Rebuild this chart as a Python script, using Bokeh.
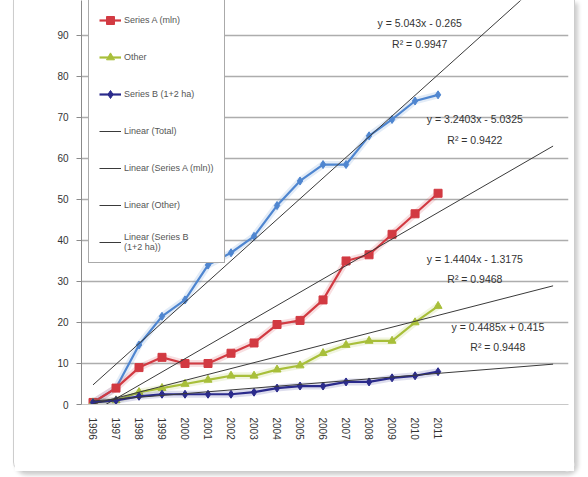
from bokeh.plotting import figure
from bokeh.models import FixedTicker, Legend, LegendItem, InlineStyleSheet, Range1d
from bokeh.embed import file_html
from bokeh.resources import INLINE
from bokeh.core.properties import value
import numpy as np

# ---- data -------------------------------------------------------------
years = ["1996", "1997", "1998", "1999", "2000", "2001", "2002", "2003",
         "2004", "2005", "2006", "2007", "2008", "2009", "2010", "2011"]
idx = list(range(1, len(years) + 1))

total = [0.5, 4.0, 14.5, 21.5, 25.5, 34.0, 37.0, 41.0, 48.5, 54.5, 58.5, 58.5, 65.5, 69.5, 74.0, 75.5]
series_a = [0.5, 4.0, 9.0, 11.5, 10.0, 10.0, 12.5, 15.0, 19.5, 20.5, 25.5, 35.0, 36.5, 41.5, 46.5, 51.5]
other = [0.5, 1.0, 3.0, 4.0, 5.0, 6.0, 7.0, 7.0, 8.5, 9.5, 12.5, 14.5, 15.5, 15.5, 20.0, 24.0]
series_b = [0.5, 1.0, 2.0, 2.5, 2.5, 2.5, 2.5, 3.0, 4.0, 4.5, 4.5, 5.5, 5.5, 6.5, 7.0, 8.0]

# linear trend coefficients (slope, intercept) and R^2 for each series
trend_slope = [5.043, 3.2403, 1.4404, 0.4485]
trend_icpt = [-0.265, -5.0325, -1.3175, 0.415]
trend_r2 = ["0.9947", "0.9422", "0.9468", "0.9448"]
forecast_end = 21  # trend lines run five periods past the last year

y_ticks = [0, 10, 20, 30, 40, 50, 60, 70, 80, 90]

# ---- figure -------------------------------------------------------------
FONT = "Liberation Sans"
frame_css = InlineStyleSheet(css=""":host {
  border: 1px solid #cdcdcd; border-top: none;
  border-radius: 0 0 10px 10px;
  box-shadow: 3px 3px 4px rgba(0,0,0,0.20);
}""")

p = figure(width=562, height=472,
           x_range=Range1d(0.5, 21.67), y_range=Range1d(0, 98.5),
           output_backend="svg", toolbar_location=None,
           min_border_left=67, min_border_right=8,
           min_border_top=0, min_border_bottom=68,
           margin=(0, 0, 0, 13), stylesheets=[frame_css])
p.outline_line_color = None
p.background_fill_color = "white"
p.border_fill_color = "white"

# axes
p.yaxis.ticker = FixedTicker(ticks=y_ticks)
p.yaxis.axis_line_color = "#8a8a8a"
p.yaxis.major_tick_line_color = "#8a8a8a"
p.yaxis.major_tick_out = 5
p.yaxis.major_tick_in = 0
p.yaxis.minor_tick_line_color = None
p.yaxis.major_label_text_font = FONT
p.yaxis.major_label_text_font_size = "10px"
p.yaxis.major_label_text_color = "#333333"
p.yaxis.major_label_standoff = 8

p.xaxis.ticker = FixedTicker(ticks=idx)
p.xaxis.major_label_overrides = {i: y for i, y in zip(idx, years)}
p.xaxis.major_label_orientation = "vertical"
p.xaxis.axis_line_color = "#c8c8c8"
p.xaxis.major_tick_line_color = None
p.xaxis.minor_tick_line_color = None
p.xaxis.major_label_text_font = FONT
p.xaxis.major_label_text_font_size = "10px"
p.xaxis.major_label_text_color = "#333333"
p.xaxis.major_label_standoff = 7

p.xgrid.grid_line_color = None
p.ygrid.grid_line_color = "#adadad"
p.ygrid.grid_line_width = 1.5

# ---- series -------------------------------------------------------------
styles = [
    # data, colour, marker
    (total, "#4f86d0", "diamond"),
    (series_a, "#d23a42", "square"),
    (other, "#a8bf3a", "triangle"),
    (series_b, "#2b2b8c", "diamond"),
]

renderers = []
for data, col, mk in styles:
    p.line(idx, data, line_color=col, line_width=7, line_alpha=0.16)
    ln = p.line(idx, data, line_color=col, line_width=2.2)
    sc = p.scatter(idx, data, marker=mk, size=8, fill_color=col,
                   line_color=col)
    renderers.append([ln, sc])

# linear trend lines
tx = np.array([1, forecast_end], dtype=float)
trend_r = []
for m, b in zip(trend_slope, trend_icpt):
    trend_r.append(p.line(tx, m * tx + b, line_color="#3a3a3a", line_width=1))

# trend equations
eq_pos = [(15.2, 93.0), (17.6, 69.5), (17.6, 35.5), (18.6, 19.0)]
for (x, y), m, b, r2 in zip(eq_pos, trend_slope, trend_icpt, trend_r2):
    sign = "+" if b >= 0 else "-"
    eq = f"y = {m}x {sign} {abs(b)}"
    p.text([x], [y], text=[eq], text_font=value(FONT),
           text_font_size="10.5px", text_color="#333333",
           text_align="center", text_baseline="middle")
    p.text([x], [y - 5], text=[f"R\u00b2 = {r2}"], text_font=value(FONT),
           text_font_size="10.5px", text_color="#333333",
           text_align="center", text_baseline="middle")

# ---- legend -------------------------------------------------------------
items = [
    LegendItem(label="Series A (mln)", renderers=renderers[1]),
    LegendItem(label="Other", renderers=renderers[2]),
    LegendItem(label="Series B (1+2 ha)", renderers=renderers[3]),
    LegendItem(label="Linear (Total)", renderers=[trend_r[0]]),
    LegendItem(label="Linear (Series A (mln))", renderers=[trend_r[1]]),
    LegendItem(label="Linear (Other)", renderers=[trend_r[2]]),
    LegendItem(label="Linear (Series B\n(1+2 ha))", renderers=[trend_r[3]]),
]
legend = Legend(items=items, location=(7, 141), padding=10, spacing=17,
                label_height=20, glyph_height=20, glyph_width=22,
                label_standoff=3, label_text_font=FONT,
                label_text_font_size="9px", label_text_color="#555555",
                border_line_color="#555555", border_line_width=1,
                background_fill_color="white", background_fill_alpha=1,
                margin=0)
p.add_layout(legend, "center")

open("out.html", "w").write(file_html(p, INLINE))
